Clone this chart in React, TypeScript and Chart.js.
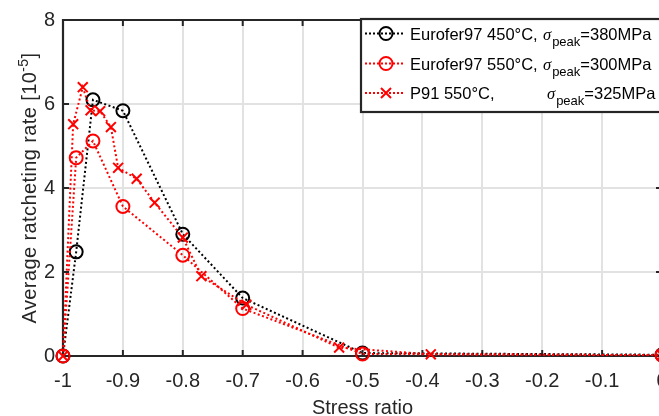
import React, { useEffect, useRef } from 'react';
import { Chart, registerables } from 'chart.js';

Chart.register(...registerables);

const xTicks = [-1, -0.9, -0.8, -0.7, -0.6, -0.5, -0.4, -0.3, -0.2, -0.1, 0];
const yTicks = [0, 2, 4, 6, 8];

const euro450X = [-1, -0.978, -0.95, -0.9, -0.8, -0.7, -0.5, 0];
const euro450Y = [0, 2.48, 6.1, 5.84, 2.9, 1.38, 0.07, 0.03];

const euro550X = [-1, -0.978, -0.95, -0.9, -0.8, -0.7, -0.5, 0];
const euro550Y = [0, 4.72, 5.12, 3.56, 2.4, 1.13, 0.05, 0.02];

const p91X = [-1, -0.983, -0.967, -0.954, -0.938, -0.92, -0.908, -0.877, -0.847, -0.8, -0.769, -0.694, -0.539, -0.386, 0];
const p91Y = [0, 5.52, 6.4, 5.85, 5.83, 5.45, 4.48, 4.22, 3.65, 2.82, 1.9, 1.22, 0.2, 0.04, 0.02];

const legendNames = ['Eurofer97 450°C,', 'Eurofer97 550°C,', 'P91 550°C,'];
const legendStress = ['=380MPa', '=300MPa', '=325MPa'];

const xTitle = 'Stress ratio';
const yTitleMain = 'Average ratcheting rate [10';
const yTitleSup = '-5';
const yTitleEnd = ']';

const FONT = '"Liberation Sans", Arial, Helvetica, sans-serif';
const AX = '#262626';

const zip = (xs: number[], ys: number[]) => xs.map((x, i) => ({ x, y: ys[i] }));

const customPlugin = {
  id: 'matlabStyle',
  beforeDatasetsDraw(chart: any) {
    const { ctx, chartArea } = chart;
    const { left, right, top, bottom } = chartArea;
    const xs = chart.scales.x;
    const ys = chart.scales.y;
    ctx.save();
    ctx.strokeStyle = AX;
    ctx.lineWidth = 2.2;
    ctx.beginPath();
    ctx.rect(left, top, right - left, bottom - top);
    ctx.stroke();
    ctx.lineWidth = 2;
    ctx.beginPath();
    const tl = 6;
    xTicks.forEach((v) => {
      const px = xs.getPixelForValue(v);
      ctx.moveTo(px, bottom);
      ctx.lineTo(px, bottom - tl);
      ctx.moveTo(px, top);
      ctx.lineTo(px, top + tl);
    });
    yTicks.forEach((v) => {
      const py = ys.getPixelForValue(v);
      ctx.moveTo(left, py);
      ctx.lineTo(left + tl, py);
      ctx.moveTo(right, py);
      ctx.lineTo(right - tl, py);
    });
    ctx.stroke();
    ctx.restore();
  },
  afterDraw(chart: any) {
    const { ctx, chartArea } = chart;
    ctx.save();
    // X title
    ctx.fillStyle = AX;
    ctx.font = `20px ${FONT}`;
    ctx.textAlign = 'center';
    ctx.textBaseline = 'alphabetic';
    ctx.fillText(xTitle, (chartArea.left + chartArea.right) / 2, 414);

    // Y title with superscript
    ctx.save();
    (ctx as any).letterSpacing = '0.4px';
    ctx.translate(36, (chartArea.top + chartArea.bottom) / 2);
    ctx.rotate(-Math.PI / 2);
    ctx.textAlign = 'left';
    ctx.font = `20px ${FONT}`;
    const w1 = ctx.measureText(yTitleMain).width;
    const w3 = ctx.measureText(yTitleEnd).width;
    ctx.font = `14px ${FONT}`;
    const w2 = ctx.measureText(yTitleSup).width;
    const total = w1 + w2 + w3;
    let sx = -total / 2;
    ctx.font = `20px ${FONT}`;
    ctx.fillText(yTitleMain, sx, 0);
    sx += w1;
    ctx.font = `14px ${FONT}`;
    ctx.fillText(yTitleSup, sx, -8);
    sx += w2;
    ctx.font = `20px ${FONT}`;
    ctx.fillText(yTitleEnd, sx, 0);
    ctx.restore();

    // Legend
    const bx = 361;
    const by = 19;
    const bw = 400;
    const bh = 93;
    ctx.fillStyle = '#ffffff';
    ctx.fillRect(bx, by, bw, bh);
    ctx.strokeStyle = AX;
    ctx.lineWidth = 2.2;
    ctx.strokeRect(bx, by, bw, bh);

    const rowY = [33.5, 63.5, 93];
    const colors = ['#000000', '#ff0000', '#ff0000'];
    const styles = ['circle', 'circle', 'cross'];
    const sigmaX = [543, 543, 547];
    rowY.forEach((ry, i) => {
      ctx.strokeStyle = colors[i];
      ctx.lineWidth = 2;
      ctx.setLineDash([2, 2]);
      ctx.beginPath();
      ctx.moveTo(365, ry);
      ctx.lineTo(404, ry);
      ctx.stroke();
      ctx.setLineDash([]);
      ctx.beginPath();
      if (styles[i] === 'circle') {
        ctx.arc(386, ry, 6.5, 0, Math.PI * 2);
      } else {
        ctx.moveTo(381, ry - 5);
        ctx.lineTo(391, ry + 5);
        ctx.moveTo(381, ry + 5);
        ctx.lineTo(391, ry - 5);
      }
      ctx.stroke();

      const base = ry + 6;
      ctx.fillStyle = '#000000';
      ctx.textAlign = 'left';
      ctx.textBaseline = 'alphabetic';
      ctx.font = `16.5px ${FONT}`;
      ctx.fillText(legendNames[i], 410, base);
      let x = sigmaX[i];
      ctx.font = `italic 16.5px "Liberation Serif", "Times New Roman", serif`;
      ctx.fillText('σ', x, base);
      x += ctx.measureText('σ').width + 1;
      ctx.font = `13px ${FONT}`;
      ctx.fillText('peak', x, base + 6);
      x += ctx.measureText('peak').width;
      ctx.font = `16.5px ${FONT}`;
      ctx.fillText(legendStress[i], x, base);
    });
    ctx.restore();
  },
};

export default function App() {
  const ref = useRef<HTMLCanvasElement | null>(null);

  useEffect(() => {
    if (!ref.current) return;
    const lineCommon = {
      showLine: true,
      borderWidth: 2,
      borderDash: [2, 2.5],
      pointBorderWidth: 2,
      pointBackgroundColor: 'rgba(0,0,0,0)',
      backgroundColor: 'rgba(0,0,0,0)',
      fill: false,
      tension: 0,
      clip: false as any,
    };
    const chart = new Chart(ref.current, {
      type: 'scatter',
      data: {
        datasets: [
          {
            ...lineCommon,
            label: 'P91 550°C',
            data: zip(p91X, p91Y),
            borderColor: '#ff0000',
            pointBorderColor: '#ff0000',
            pointStyle: 'crossRot',
            pointRadius: 7,
            order: 1,
          },
          {
            ...lineCommon,
            label: 'Eurofer97 550°C',
            data: zip(euro550X, euro550Y),
            borderColor: '#ff0000',
            pointBorderColor: '#ff0000',
            pointStyle: 'circle',
            pointRadius: 6.5,
            order: 2,
          },
          {
            ...lineCommon,
            label: 'Eurofer97 450°C',
            data: zip(euro450X, euro450Y),
            borderColor: '#000000',
            pointBorderColor: '#000000',
            pointStyle: 'circle',
            pointRadius: 6.5,
            order: 3,
          },
        ] as any,
      },
      options: {
        animation: false,
        responsive: false,
        maintainAspectRatio: false,
        layout: { padding: { left: 0, top: 18, right: 28, bottom: 0 } },
        plugins: {
          legend: { display: false },
          tooltip: { enabled: false },
        },
        scales: {
          x: {
            type: 'linear',
            min: -1,
            max: 0,
            afterBuildTicks: (scale: any) => {
              scale.ticks = xTicks.map((v) => ({ value: v }));
            },
            afterFit: (scale: any) => {
              scale.height = 60;
            },
            ticks: {
              autoSkip: false,
              maxRotation: 0,
              padding: 13,
              color: AX,
              font: { family: FONT, size: 20 },
              callback: (v: any) => String(Number(Number(v).toFixed(1))),
            },
            grid: { color: '#e2e2e2', lineWidth: 2, drawTicks: false },
            border: { display: false },
          },
          y: {
            type: 'linear',
            min: 0,
            max: 8,
            afterBuildTicks: (scale: any) => {
              scale.ticks = yTicks.map((v) => ({ value: v }));
            },
            afterFit: (scale: any) => {
              scale.width = 63;
            },
            ticks: {
              padding: 8,
              color: AX,
              font: { family: FONT, size: 20 },
              callback: (v: any) => String(v),
            },
            grid: { color: '#e2e2e2', lineWidth: 2, drawTicks: false },
            border: { display: false },
          },
        },
      } as any,
      plugins: [customPlugin],
    });
    return () => chart.destroy();
  }, []);

  return (
    <div
      style={{
        position: 'fixed',
        left: 0,
        top: 0,
        width: 659,
        height: 416,
        overflow: 'hidden',
        background: '#ffffff',
      }}
    >
      <canvas ref={ref} width={690} height={416} style={{ width: 690, height: 416, display: 'block' }} />
    </div>
  );
}
